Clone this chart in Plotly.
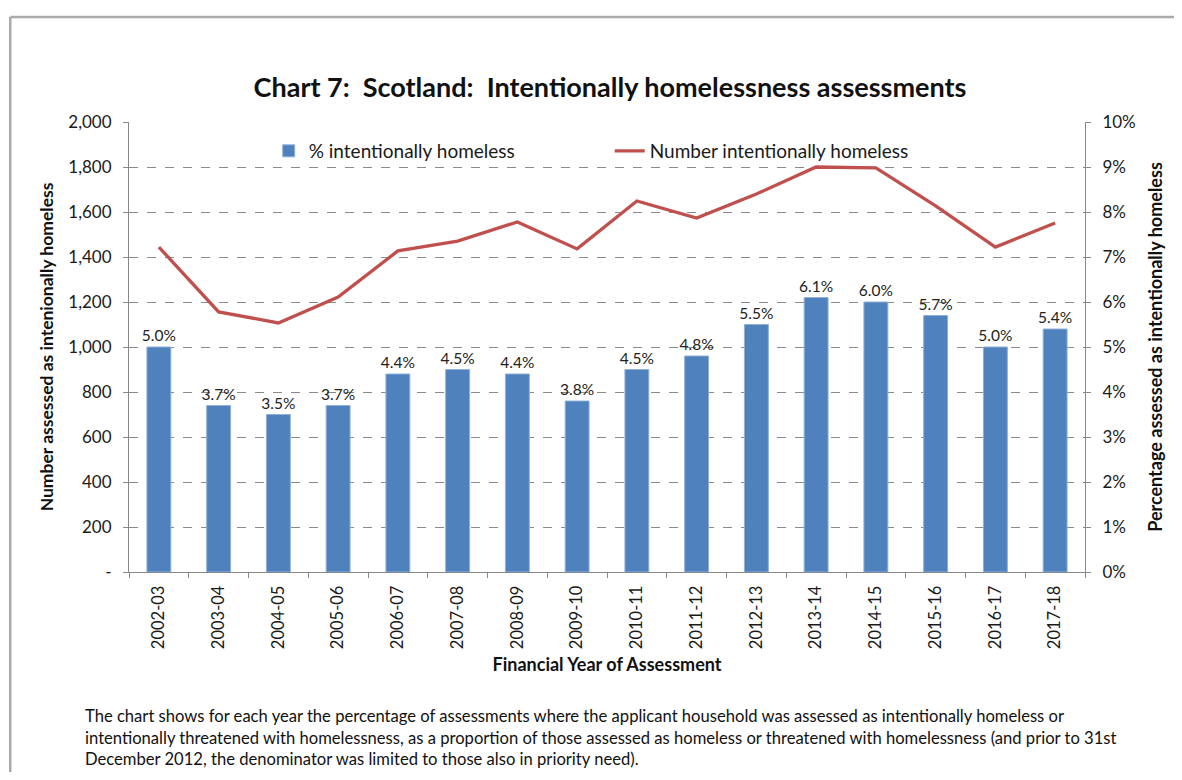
import plotly.graph_objects as go

years = ["2002-03", "2003-04", "2004-05", "2005-06", "2006-07", "2007-08", "2008-09", "2009-10",
         "2010-11", "2011-12", "2012-13", "2013-14", "2014-15", "2015-16", "2016-17", "2017-18"]
pct_intentional = [5.0, 3.7, 3.5, 3.7, 4.4, 4.5, 4.4, 3.8, 4.5, 4.8, 5.5, 6.1, 6.0, 5.7, 5.0, 5.4]
num_intentional = [1444, 1156, 1107, 1222, 1427, 1471, 1556, 1436, 1649, 1573, 1680, 1800, 1796, 1627, 1444, 1551]

left_tickvals = [0, 200, 400, 600, 800, 1000, 1200, 1400, 1600, 1800, 2000]
left_ticktext = ["-", "200", "400", "600", "800", "1,000", "1,200", "1,400", "1,600", "1,800", "2,000"]
right_tickvals = [0, 1, 2, 3, 4, 5, 6, 7, 8, 9, 10]
right_ticktext = ["0%", "1%", "2%", "3%", "4%", "5%", "6%", "7%", "8%", "9%", "10%"]

FONT = "Lato"
BLUE = "#4F81BD"
RED = "#C0504D"
TXT = "#1a1a1a"

fig = go.Figure()
fig.add_trace(go.Bar(
    x=years, y=pct_intentional, name="% intentionally homeless",
    marker=dict(color=BLUE, line=dict(color="#8FB0DA", width=1)),
    width=0.4, yaxis="y",
    text=[f"{v:.1f}%" for v in pct_intentional], textposition="outside",
    constraintext="none",
    textfont=dict(family=FONT, size=15.5, color="#222"), cliponaxis=False,
))
fig.add_trace(go.Scatter(
    x=years, y=num_intentional, name="Number intentionally homeless",
    mode="lines", line=dict(color=RED, width=3.3), yaxis="y2",
))

# page body has an 8px margin on every side; keep the figure inside the window
OFF = 8
W, H = 1182 - 2 * OFF, 780 - 2 * OFF
L, T = 129 - OFF, 122 - OFF
pw, ph = 1087 - 129, 572 - 122
R, B = W - L - pw, H - T - ph
def px(sx): return (sx - OFF - L) / pw
def py(sy): return (T + ph - (sy - OFF)) / ph

fig.update_layout(
    width=W, height=H,
    margin=dict(l=L, r=R, t=T, b=B),
    paper_bgcolor="white", plot_bgcolor="white",
    font=dict(family=FONT, size=17, color=TXT),
    title=dict(text="<b>Chart 7:  Scotland:  Intentionally homelessness assessments</b>",
               xref="container", x=(610 - OFF) / W, xanchor="center",
               yref="container", y=1 - (88 - OFF) / H, yanchor="middle",
               font=dict(family=FONT, size=27, color="#111")),
    showlegend=True,
    legend=dict(orientation="h", x=px(269), xanchor="left", y=py(151), yanchor="middle",
                bgcolor="rgba(0,0,0,0)", font=dict(family=FONT, size=19, color=TXT),
                entrywidth=296, traceorder="normal", itemwidth=30),
    xaxis=dict(type="category", tickson="boundaries", ticks="outside", ticklen=5,
               tickcolor="#888", showline=True, linecolor="#888", linewidth=1,
               tickangle=-90, tickfont=dict(family=FONT, size=16.5, color=TXT),
               ticklabelstandoff=6, showgrid=False,
               title=dict(text="<b>Financial Year of Assessment</b>", standoff=10,
                          font=dict(family=FONT, size=18, color="#111"))),
    yaxis=dict(range=[0, 10], side="right", tickvals=right_tickvals, ticktext=right_ticktext,
               showgrid=True, gridcolor="#8a8a8a", griddash="dash", gridwidth=1,
               showline=True, linecolor="#888", linewidth=1, ticks="outside", ticklen=5,
               tickcolor="#888", zeroline=False, ticklabelstandoff=8,
               tickfont=dict(family=FONT, size=17, color=TXT),
               title=dict(text="<b>Percentage assessed as intentionally homeless</b>", standoff=14,
                          font=dict(family=FONT, size=18, color="#111"))),
    yaxis2=dict(range=[0, 2000], side="left", overlaying="y", tickvals=left_tickvals,
                ticktext=left_ticktext, showgrid=False, showline=True, linecolor="#888",
                linewidth=1, ticks="outside", ticklen=5, tickcolor="#888", zeroline=False,
                ticklabelstandoff=8,
                tickfont=dict(family=FONT, size=17, color=TXT),
                title=dict(text="<b>Number assessed as intenionally homeless</b>", standoff=10,
                           font=dict(family=FONT, size=17.5, color="#111"))),
)

footnote = ("The chart shows for each year the percentage of assessments where the applicant household was assessed as intentionally homeless or<br>"
            "intentionally threatened with homelessness, as a proportion of those assessed as homeless or threatened with homelessness (and prior to 31st<br>"
            "December 2012, the denominator was limited to those also in priority need).")
fig.add_annotation(text=footnote, xref="paper", yref="paper", x=px(83), y=py(704),
                   xanchor="left", yanchor="top", align="left", showarrow=False,
                   font=dict(family=FONT, size=16.6, color="#111"))

# outer frame
fig.add_shape(type="line", xref="paper", yref="paper", x0=px(10), x1=px(1190), y0=py(17), y1=py(17),
              line=dict(color="#aaaaaa", width=2.5))
fig.add_shape(type="line", xref="paper", yref="paper", x0=px(10), x1=px(10), y0=py(17), y1=py(790),
              line=dict(color="#aaaaaa", width=2.5))

fig.write_html("out.html")
